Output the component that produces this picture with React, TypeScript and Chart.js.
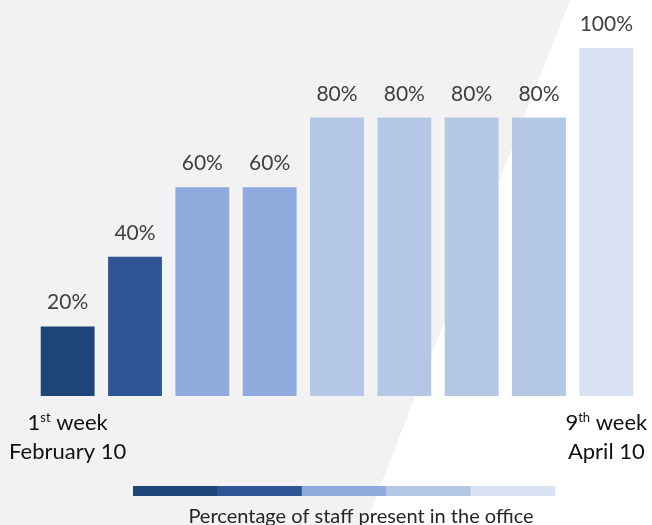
import React, { useEffect, useRef } from "react";
import { Chart, registerables } from "chart.js";

Chart.register(...registerables);

const weeks = ["Week 1", "Week 2", "Week 3", "Week 4", "Week 5", "Week 6", "Week 7", "Week 8", "Week 9"];
const staffPercent = [20, 40, 60, 60, 80, 80, 80, 80, 100];
const barColors = ["#1F4578", "#2F5597", "#8FAADC", "#8FAADC", "#B4C7E7", "#B4C7E7", "#B4C7E7", "#B4C7E7", "#DAE3F3"];
const legendColors = ["#1F4578", "#2F5597", "#8FAADC", "#B4C7E7", "#DAE3F3"];
const endLabels = [
  { index: 0, num: "1", sup: "st", rest: " week", date: "February 10" },
  { index: 8, num: "9", sup: "th", rest: " week", date: "April 10" },
];
const caption = "Percentage of staff present in the office";

const FONT = "Lato, 'Open Sans', sans-serif";

const decorPlugin = {
  id: "decor",
  beforeDraw(chart: any) {
    const { ctx, width, height } = chart;
    ctx.save();
    ctx.fillStyle = "#F2F2F2";
    ctx.fillRect(0, 0, width, height);
    ctx.fillStyle = "#FFFFFF";
    ctx.beginPath();
    ctx.moveTo(570, 0);
    ctx.lineTo(width, 0);
    ctx.lineTo(width, height);
    ctx.lineTo(365, height);
    ctx.closePath();
    ctx.fill();
    ctx.restore();
  },
  afterDatasetsDraw(chart: any) {
    const { ctx, chartArea } = chart;
    const meta = chart.getDatasetMeta(0);
    const xScale = chart.scales.x;
    ctx.save();
    // value labels
    ctx.font = `21px ${FONT}`;
    ctx.fillStyle = "#404040";
    ctx.textAlign = "center";
    ctx.textBaseline = "alphabetic";
    meta.data.forEach((bar: any, i: number) => {
      ctx.fillText(`${staffPercent[i]}%`, bar.x, bar.y - 17);
    });
    // end labels with superscript
    const base1 = chartArea.bottom + 34;
    const base2 = chartArea.bottom + 63;
    endLabels.forEach((l) => {
      const cx = xScale.getPixelForValue(l.index);
      ctx.fillStyle = "#111111";
      ctx.textAlign = "left";
      ctx.font = `22px ${FONT}`;
      const wNum = ctx.measureText(l.num).width;
      const wRest = ctx.measureText(l.rest).width;
      ctx.font = `13px ${FONT}`;
      const wSup = ctx.measureText(l.sup).width;
      const total = wNum + wSup + wRest;
      let x = cx - total / 2;
      ctx.font = `22px ${FONT}`;
      ctx.fillText(l.num, x, base1);
      x += wNum;
      ctx.font = `13px ${FONT}`;
      ctx.fillText(l.sup, x, base1 - 8);
      x += wSup;
      ctx.font = `22px ${FONT}`;
      ctx.fillText(l.rest, x, base1);
      ctx.textAlign = "center";
      ctx.fillText(l.date, cx, base2);
    });
    // gradient legend strip
    const stripLeft = 133;
    const stripWidth = 422;
    const segW = stripWidth / legendColors.length;
    const stripTop = chartArea.bottom + 90;
    legendColors.forEach((c, i) => {
      ctx.fillStyle = c;
      ctx.fillRect(stripLeft + i * segW, stripTop, segW + 0.5, 10);
    });
    ctx.fillStyle = "#262626";
    ctx.font = `20px ${FONT}`;
    ctx.textAlign = "center";
    ctx.fillText(caption, 361, chartArea.bottom + 127);
    ctx.restore();
  },
};

export default function App() {
  const ref = useRef<HTMLCanvasElement | null>(null);
  useEffect(() => {
    if (!ref.current) return;
    const chart = new Chart(ref.current, {
      type: "bar",
      data: {
        labels: weeks,
        datasets: [
          {
            data: staffPercent,
            backgroundColor: barColors,
            borderWidth: 0,
            barPercentage: 0.8,
            categoryPercentage: 1,
          },
        ],
      },
      options: {
        animation: false,
        responsive: false,
        maintainAspectRatio: false,
        layout: { padding: { left: 34, right: 12, top: 48, bottom: 129 } },
        plugins: { legend: { display: false }, tooltip: { enabled: false } },
        scales: {
          x: { display: false },
          y: { display: false, min: 0, max: 100 },
        },
      },
      plugins: [decorPlugin],
    });
    return () => chart.destroy();
  }, []);
  return (
    <div style={{ position: "absolute", left: 0, top: 0, width: 652, height: 525 }}>
      <canvas ref={ref} width={652} height={525} style={{ display: "block" }} />
    </div>
  );
}
